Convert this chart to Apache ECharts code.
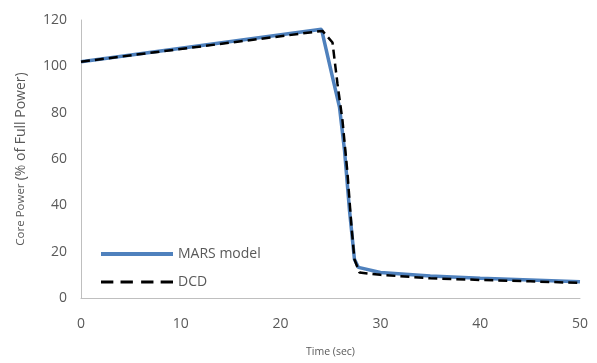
<!DOCTYPE html>
<html>
<head>
<meta charset="utf-8">
<script src="https://cdn.jsdelivr.net/npm/echarts@6/dist/echarts.min.js"></script>
<style>
  html, body { margin: 0; padding: 0; background: #fff; }
  #main { width: 597px; height: 363px; }
</style>
</head>
<body>
<div id="main"></div>
<script>
// MARS model
var marsTime = [0, 24.1, 25.2, 25.9, 26.4, 26.9, 27.4, 27.8, 30, 35, 40, 45, 50];
var marsPower = [102, 116, 95.3, 82.4, 63.9, 38, 16.7, 13.2, 11, 9.5, 8.5, 7.8, 7];
// DCD
var dcdTime = [0, 24.2, 25.2, 25.7, 26.2, 26.7, 27.1, 27.4, 27.9, 30, 35, 40, 45, 50];
var dcdPower = [102, 115.3, 110.3, 92.4, 76.7, 54, 31, 16.7, 11, 10, 8.5, 7.8, 7.2, 6.5];

var xTicks = [0, 10, 20, 30, 40, 50];
var yTicks = [0, 20, 40, 60, 80, 100, 120];

function pairs(t, v) {
  var out = [];
  for (var i = 0; i < t.length; i++) out.push([t[i], v[i]]);
  return out;
}

var font = '"Open Sans", "Noto Sans", sans-serif';
var Chart = echarts.init(document.getElementById('main'), null, { renderer: 'canvas' });

var option = {
  animation: false,
  textStyle: { fontFamily: font },
  grid: { left: 81, right: 17, top: 20, bottom: 64 },
  legend: {
    orient: 'vertical',
    left: 96,
    top: 242,
    itemWidth: 72,
    itemHeight: 14,
    itemGap: 14,
    textStyle: { fontSize: 14, color: '#595959', fontFamily: font },
    data: [
      { name: 'MARS model', icon: 'path://M0,0 L72,0 L72,4 L0,4 Z' },
      { name: 'DCD', icon: 'path://M0,0h12v3h-12Z M19,0h12v3h-12Z M39,0h12v3h-12Z M58,0h12v3h-12Z' }
    ]
  },
  xAxis: {
    type: 'value',
    min: xTicks[0],
    max: xTicks[xTicks.length - 1],
    interval: 10,
    name: 'Time (sec)',
    nameLocation: 'middle',
    nameGap: 49,
    nameTextStyle: { fontSize: 10.5, color: '#595959' },
    axisLine: { show: true, lineStyle: { color: '#bfbfbf', width: 1 } },
    axisTick: { show: false },
    splitLine: { show: false },
    axisLabel: { fontSize: 14, color: '#595959', margin: 19 }
  },
  yAxis: {
    type: 'value',
    min: yTicks[0],
    max: yTicks[yTicks.length - 1],
    interval: 20,
    name: '{s|Core Power} {b|(% of Full Power)}',
    nameLocation: 'middle',
    nameGap: 53,
    nameTextStyle: {
      rich: {
        s: { fontSize: 11.5, color: '#595959', fontFamily: font },
        b: { fontSize: 14, color: '#595959', fontFamily: font }
      }
    },
    axisLine: { show: true, lineStyle: { color: '#bfbfbf', width: 1 } },
    axisTick: { show: false },
    splitLine: { show: false },
    axisLabel: { fontSize: 14, color: '#595959', margin: 14 }
  },
  series: [
    {
      name: 'MARS model',
      type: 'line',
      data: pairs(marsTime, marsPower),
      showSymbol: false,
      symbol: 'none',
      itemStyle: { color: '#4f81bd' },
      lineStyle: { color: '#4f81bd', width: 3.5 },
      z: 2
    },
    {
      name: 'DCD',
      type: 'line',
      data: pairs(dcdTime, dcdPower),
      showSymbol: false,
      symbol: 'none',
      itemStyle: { color: '#000' },
      lineStyle: { color: '#000', width: 2.5, type: [9, 5] },
      z: 3
    }
  ]
};
Chart.setOption(option);
</script>
</body>
</html>
